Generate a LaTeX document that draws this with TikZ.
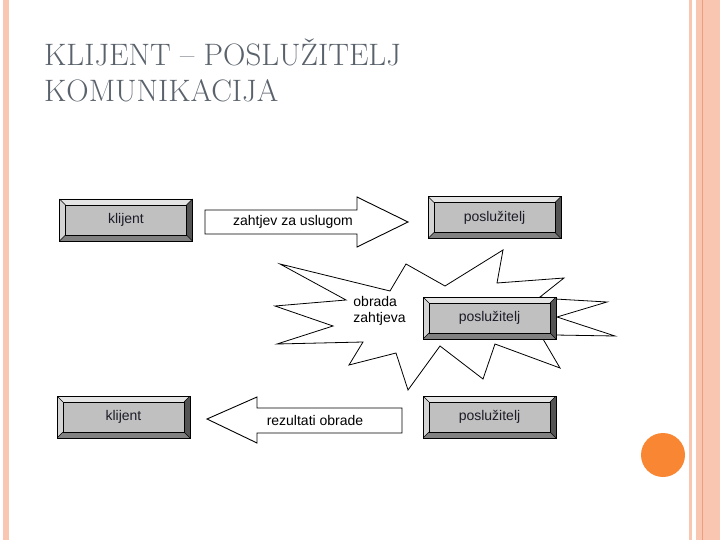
\documentclass[tikz,border=0pt]{standalone}
\usepackage{fontspec}
\setsansfont{Liberation Sans}
\usepackage{tikz}
\usetikzlibrary{
    positioning,
    calc
}
\definecolor{titlegray}{HTML}{5A626C}
\definecolor{btnface}{HTML}{C0C0C0}
\definecolor{btntop}{HTML}{E4E4E4}
\definecolor{btnleft}{HTML}{D4D4D4}
\definecolor{btnright}{HTML}{545454}
\definecolor{btnbottom}{HTML}{808080}
\definecolor{btntext}{HTML}{1C1C28}
\definecolor{stripecolor}{HTML}{F8C6B1}
\definecolor{stripeline}{HTML}{EE9E7E}
\definecolor{dotcolor}{HTML}{F98633}
\newcommand{\btnbevel}{6pt}
\tikzset{
    button/.style={
        rectangle, draw=black, line width=0.8pt, fill=btnface,
        minimum width=133pt, minimum height=42pt, inner sep=0pt,
        font=\fontsize{14}{16}\selectfont\sffamily, text=btntext,
        path picture={
            \path (path picture bounding box.north west) coordinate (pnw)
                  (path picture bounding box.south east) coordinate (pse);
            \fill[btntop] (pnw) -- (pnw -| pse) -- ([shift={(-\btnbevel,-\btnbevel)}]pnw -| pse)
                -- ([shift={(\btnbevel,-\btnbevel)}]pnw) -- cycle;
            \fill[btnleft] (pnw) -- (pse -| pnw) -- ([shift={(\btnbevel,\btnbevel)}]pse -| pnw)
                -- ([shift={(\btnbevel,-\btnbevel)}]pnw) -- cycle;
            \fill[btnright] (pnw -| pse) -- (pse) -- ([shift={(-\btnbevel,\btnbevel)}]pse)
                -- ([shift={(-\btnbevel,-\btnbevel)}]pnw -| pse) -- cycle;
            \fill[btnbottom] (pse -| pnw) -- (pse) -- ([shift={(-\btnbevel,\btnbevel)}]pse)
                -- ([shift={(\btnbevel,\btnbevel)}]pse -| pnw) -- cycle;
            \draw[line width=0.5pt] ([shift={(\btnbevel,-\btnbevel)}]pnw) rectangle ([shift={(-\btnbevel,\btnbevel)}]pse);
            \draw[line width=0.4pt] (pnw) -- ([shift={(\btnbevel,-\btnbevel)}]pnw)
                (pse) -- ([shift={(-\btnbevel,\btnbevel)}]pse)
                (pnw -| pse) -- ([shift={(-\btnbevel,-\btnbevel)}]pnw -| pse)
                (pse -| pnw) -- ([shift={(\btnbevel,\btnbevel)}]pse -| pnw);
        }
    },
    block arrow/.style={
        draw=black, line width=0.9pt, fill=white, line join=miter
    },
    burst/.style={
        draw=black, line width=0.8pt, fill=white, line join=miter
    },
    label text/.style={
        font=\fontsize{14}{16}\selectfont\sffamily, text=black, inner sep=0pt, align=left
    },
    title text/.style={
        font=\fontsize{31}{36}\selectfont, text=titlegray, inner sep=0pt, anchor=base west
    },
}

\begin{document}
\begin{tikzpicture}[x=1pt, y=-1pt]
    \useasboundingbox (0,0) rectangle (720,540);

    % slide frame
    \fill[stripecolor] (3,0) rectangle (9,540);
    \fill[stripecolor] (689,0) rectangle (692,540);
    \fill[stripecolor] (696,0) rectangle (720,540);
    \draw[stripeline, line width=0.8pt] (702,0) -- (702,540);
    \fill[dotcolor] (663,455) circle (22pt);

    \node[title text] (title1) at (44,66) {KLIJENT – POSLUŽITELJ};
    \node[title text] (title2) at (44,102) {KOMUNIKACIJA};

    % request
    \node[button] (client1) at (126,220) {klijent};
    \node[button] (server1) at (494.5,217.5) {poslužitelj};
    \draw[block arrow] (205,210) -- (357,210) -- (357,197) -- (408,222)
        -- (357,247) -- (357,234) -- (205,234) -- cycle;
    \node[label text] (request) at (293,222) {zahtjev za uslugom};

    % processing
    \draw[burst] (280,264) -- (390,291) -- (406,264) -- (445,286) -- (503,250)
        -- (497,283) -- (564,278) -- (540,297) -- (555,299) -- (607,302)
        -- (557,317) -- (615,336) -- (555,335) -- (543,339) -- (560,368)
        -- (495,344) -- (483,379) -- (440,346) -- (408,390) -- (396,353)
        -- (349,365) -- (363,342) -- (277,344) -- (333,326) -- (275,306)
        -- (346,300) -- cycle;
    \node[label text] (process) at (379.5,311) {obrada\\zahtjeva};
    \node[button] (server2) at (489.5,318) {poslužitelj};

    % response
    \node[button] (client2) at (123.5,417) {klijent};
    \node[button] (server3) at (489.5,417) {poslužitelj};
    \draw[block arrow] (402,408) -- (257,408) -- (257,397) -- (207,419)
        -- (257,443) -- (257,433) -- (402,433) -- cycle;
    \node[label text] (response) at (315,420) {rezultati obrade};
\end{tikzpicture}
\end{document}
